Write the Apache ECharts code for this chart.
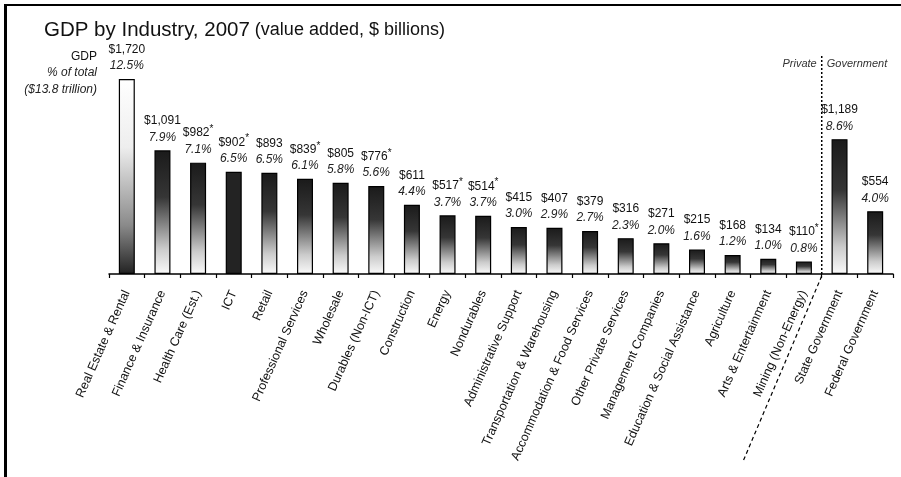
<!DOCTYPE html>
<html>
<head>
<meta charset="utf-8">
<script src="https://cdn.jsdelivr.net/npm/echarts@6/dist/echarts.min.js"></script>
<style>
html,body{margin:0;padding:0;background:#fff;}
#c{width:901px;height:477px;}
</style>
</head>
<body>
<div id="c"></div>
<script>
const categories = ['Real Estate & Rental','Finance & Insurance','Health Care (Est.)','ICT','Retail','Professional Services','Wholesale','Durables (Non-ICT)','Construction','Energy','Nondurables','Administrative Support','Transportation & Warehousing','Accommodation & Food Services','Other Private Services','Management Companies','Education & Social Assistance','Agriculture','Arts & Entertainment','Mining (Non-Energy)','State Government','Federal Government'];
const gdpValues = [1720,1091,982,902,893,839,805,776,611,517,514,415,407,379,316,271,215,168,134,110,1189,554];
const pctLabels = ['12.5%','7.9%','7.1%','6.5%','6.5%','6.1%','5.8%','5.6%','4.4%','3.7%','3.7%','3.0%','2.9%','2.7%','2.3%','2.0%','1.6%','1.2%','1.0%','0.8%','8.6%','4.0%'];
const estimated = [false,false,true,true,false,true,false,true,false,true,true,false,false,false,false,false,false,false,false,true,false,false];
const barStyleKind = ['inverse','normal','normal','solid','normal','normal','normal','normal','normal','normal','normal','normal','normal','normal','normal','normal','normal','normal','normal','normal','normal','normal'];

const FONT = "'Liberation Sans', Arial, sans-serif";

function gradFor(kind){
  if (kind === 'solid') return '#232323';
  if (kind === 'inverse') return new echarts.graphic.LinearGradient(0,0,0,1,[
    {offset:0,color:'#ffffff'},{offset:0.35,color:'#eeeeee'},{offset:0.75,color:'#8a8a8a'},{offset:1,color:'#222222'}]);
  return new echarts.graphic.LinearGradient(0,0,0,1,[
    {offset:0,color:'#1a1a1a'},{offset:0.38,color:'#363636'},{offset:0.8,color:'#cccccc'},{offset:1,color:'#fafafa'}]);
}

const seriesData = gdpValues.map((v,i)=>({
  value: v,
  itemStyle: {color: gradFor(barStyleKind[i])}
}));

const chart = echarts.init(document.getElementById('c'), null, {renderer:'canvas'});

const option = {
  animation: false,
  backgroundColor: '#ffffff',
  textStyle: {fontFamily: FONT},
  title: {
    text: '{a|GDP by Industry, 2007} {b|(value added, $ billions)}',
    left: 39, top: 15,
    textStyle: {
      fontWeight: 'normal',
      rich: {
        a: {fontFamily: FONT, fontSize: 20.5, color: '#111', fontWeight: 'normal'},
        b: {fontFamily: FONT, fontSize: 18, color: '#111', fontWeight: 'normal'}
      }
    }
  },
  grid: {left: 109, right: 8, top: 47.2, bottom: 203},
  xAxis: {
    type: 'category',
    data: categories,
    boundaryGap: true,
    axisLine: {lineStyle: {color: '#000', width: 1.5}},
    axisTick: {show: true, length: 4, lineStyle: {color: '#000', width: 1.2}},
    axisLabel: {rotate: 66, fontSize: 12.5, color: '#111', margin: 17, fontFamily: FONT, interval: 0}
  },
  yAxis: {type: 'value', min: 0, max: 2000, show: false, splitLine: {show: false}},
  series: [{
    type: 'bar',
    data: seriesData,
    barWidth: 16,
    itemStyle: {borderColor: '#000', borderWidth: 1.2},
    label: {
      show: true,
      position: 'top',
      distance: 5,
      formatter: (p)=>{
        const i = p.dataIndex;
        const v = '$' + gdpValues[i].toLocaleString('en-US');
        return '{v|' + v + '}' + (estimated[i] ? '{s|*}' : '') + '\n{p|' + pctLabels[i] + '}';
      },
      rich: {
        v: {fontFamily: FONT, fontSize: 12, color: '#111', lineHeight: 17},
        s: {fontFamily: FONT, fontSize: 10, color: '#111', lineHeight: 17, verticalAlign: 'top'},
        p: {fontFamily: FONT, fontSize: 12, fontStyle: 'italic', color: '#222', lineHeight: 16}
      }
    }
  }]
};
chart.setOption(option);

// divider between private and government sectors
const xMining = chart.convertToPixel({xAxisIndex: 0}, categories[19]);
const xState = chart.convertToPixel({xAxisIndex: 0}, categories[20]);
const xDiv = (xMining + xState) / 2;
const yBase = chart.convertToPixel({yAxisIndex: 0}, 0);
const ang = 67 * Math.PI / 180;
const diagLen = 200;

chart.setOption({
  graphic: [
    {type: 'rect', shape: {x: 4, y: 4, width: 3, height: 473}, style: {fill: '#000'}, silent: true},
    {type: 'rect', shape: {x: 4, y: 4, width: 897, height: 2}, style: {fill: '#000'}, silent: true},
    {type: 'text', x: 97, y: 57, style: {text: 'GDP', font: '12px ' + FONT, fill: '#111', align: 'right', verticalAlign: 'middle'}},
    {type: 'text', x: 97, y: 73, style: {text: '% of total', font: 'italic 12px ' + FONT, fill: '#222', align: 'right', verticalAlign: 'middle'}},
    {type: 'text', x: 97, y: 90, style: {text: '($13.8 trillion)', font: 'italic 12px ' + FONT, fill: '#222', align: 'right', verticalAlign: 'middle'}},
    {type: 'text', x: xDiv - 5, y: 64, style: {text: 'Private', font: 'italic 11px ' + FONT, fill: '#333', align: 'right', verticalAlign: 'middle'}},
    {type: 'text', x: xDiv + 5, y: 64, style: {text: 'Government', font: 'italic 11px ' + FONT, fill: '#333', align: 'left', verticalAlign: 'middle'}},
    {type: 'line', shape: {x1: xDiv, y1: 56, x2: xDiv, y2: yBase}, style: {stroke: '#000', lineWidth: 1.5, lineDash: [2, 2]}, silent: true},
    {type: 'line', shape: {x1: xDiv, y1: yBase + 2, x2: xDiv - diagLen * Math.cos(ang), y2: yBase + 2 + diagLen * Math.sin(ang)}, style: {stroke: '#000', lineWidth: 1.2, lineDash: [4, 3]}, silent: true}
  ]
});
</script>
</body>
</html>
